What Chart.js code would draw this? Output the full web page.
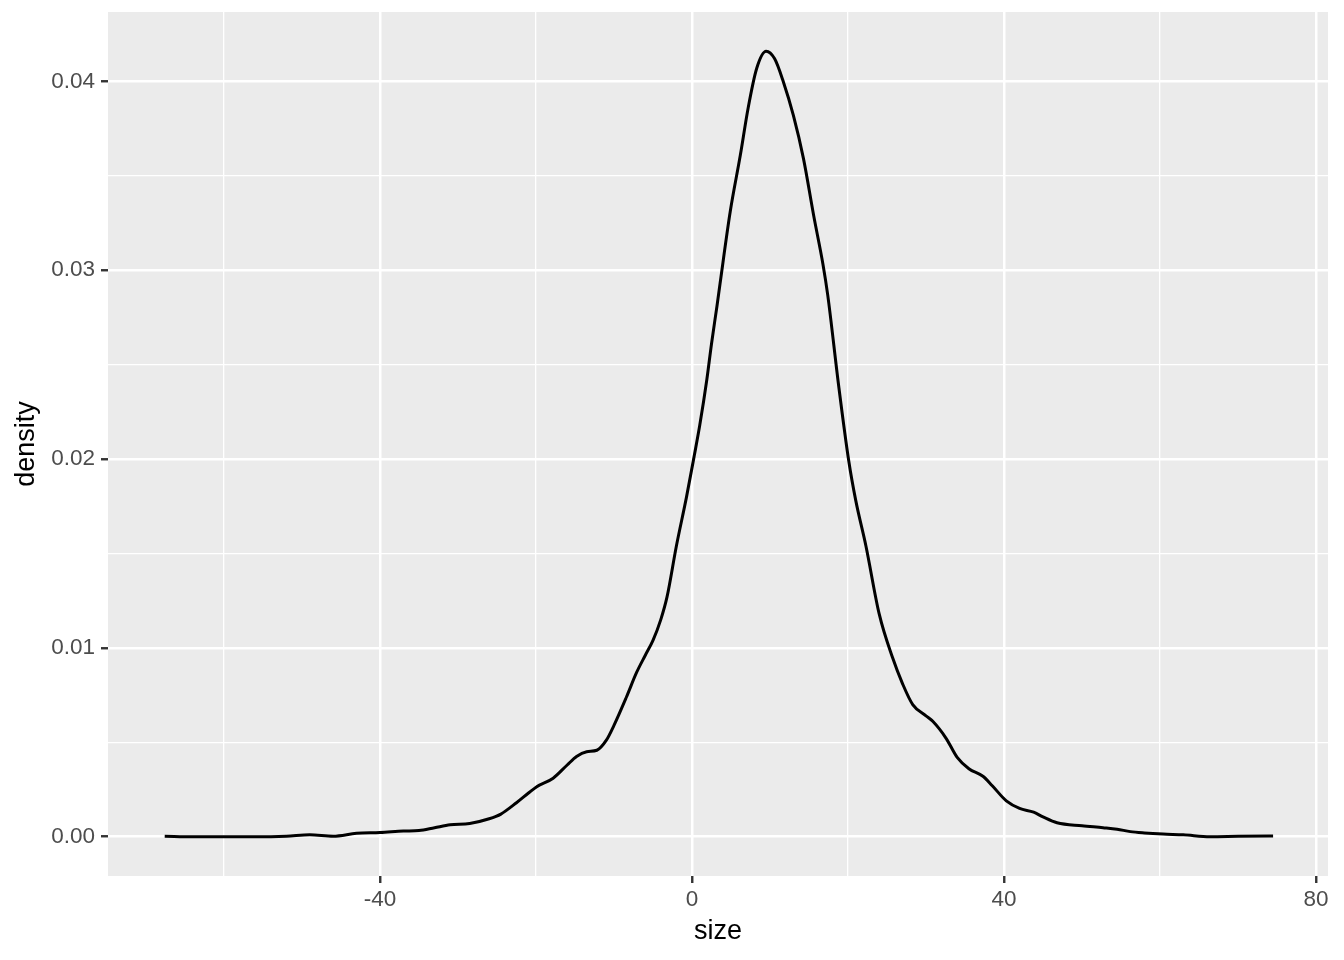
<!DOCTYPE html>
<html>
<head>
<meta charset="utf-8">
<script src="https://cdn.jsdelivr.net/npm/chart.js@4"></script>
<style>
  html, body { margin: 0; padding: 0; background: #ffffff; }
  #wrap { width: 1344px; height: 960px; }
</style>
</head>
<body>
<div id="wrap"><canvas id="chart" width="1344" height="960"></canvas></div>
<script>
// density curve
const sizeValues = [
  -67.6, -64, -60, -56, -52, -49, -46, -43, -40, -37, -35, -33, -31, -28.5, -26,
  -24.5, -22.5, -21, -19.9, -17.8, -16, -14.8, -13.5, -12.2, -11, -10, -8.4, -7.1,
  -6, -5, -4, -3.2, -2, -0.7, 0.3, 1, 1.9, 2.5, 3.2, 3.6, 4.9, 6.2, 7.2, 8.3, 9.5,
  10.6, 11.7, 13, 14.3, 15.6, 16.8, 17.4, 18.8, 20.1, 21, 22.3, 24, 25.7, 27, 28.3,
  30, 30.9, 32.6, 34, 35.5, 37.3, 38.5, 40.3, 42, 43.8, 45, 46.8, 50, 52.7, 54.5,
  56.2, 58, 60.4, 63, 66.4, 70, 74.5
];
const densityValues = [
  0.00003, 0.0, 0.0, 0.0, 0.00003, 0.0001, 0.00003, 0.00018, 0.00022, 0.0003, 0.00033,
  0.00048, 0.00063, 0.0007, 0.00095, 0.0012, 0.0018, 0.0023, 0.00265, 0.0031, 0.0038,
  0.00425, 0.0045, 0.00458, 0.0051, 0.0059, 0.0074, 0.0087, 0.0096, 0.0104, 0.0115,
  0.0127, 0.0154, 0.018, 0.0202, 0.0218, 0.0242, 0.0261, 0.0281, 0.0293, 0.0331,
  0.0361, 0.0386, 0.0407, 0.0416, 0.0412, 0.04, 0.0382, 0.0359, 0.0329, 0.0303,
  0.0287, 0.0239, 0.0199, 0.0178, 0.0154, 0.0118, 0.0095, 0.0081, 0.007, 0.0064,
  0.0061, 0.0052, 0.0042, 0.0036, 0.0032, 0.0027, 0.0019, 0.0015, 0.0013, 0.00105,
  0.00074, 0.00058, 0.00048, 0.0004, 0.00027, 0.0002, 0.00014, 0.0001, 0.0,
  0.00002, 0.00004
];
const xTickLabels = [-40, 0, 40, 80];
const yTickLabels = ['0.00', '0.01', '0.02', '0.03', '0.04'];

const points = sizeValues.map((x, i) => ({ x: x, y: densityValues[i] }));

// grey panel behind the grid
const panelBg = {
  id: 'panelBg',
  beforeDraw(chart) {
    const a = chart.chartArea;
    const ctx = chart.ctx;
    ctx.save();
    ctx.fillStyle = '#ebebeb';
    ctx.fillRect(a.left, a.top, a.right - a.left, a.bottom - a.top);
    ctx.restore();
  }
};

const isMajorX = (v) => xTickLabels.includes(Math.round(v));
const yLabelFor = (v) => {
  const s = (Math.round(v / 0.005) * 0.005).toFixed(3);
  const t = s.slice(0, -1);
  return s.endsWith('0') && yTickLabels.includes(t) ? t : '';
};

new Chart(document.getElementById('chart'), {
  type: 'line',
  data: {
    datasets: [{
      data: points,
      borderColor: '#000000',
      borderWidth: 3,
      pointRadius: 0,
      fill: false,
      cubicInterpolationMode: 'monotone'
    }]
  },
  options: {
    responsive: false,
    animation: false,
    devicePixelRatio: 1,
    layout: { padding: { top: 12, right: 16, bottom: 0, left: 0 } },
    plugins: { legend: { display: false }, tooltip: { enabled: false } },
    scales: {
      x: {
        type: 'linear',
        min: -74.87,
        max: 81.54,
        afterFit: (s) => { s.height = 84; s.paddingLeft = 0; s.paddingRight = 0; },
        border: { display: false },
        grid: {
          color: '#ffffff',
          lineWidth: (c) => isMajorX(c.tick.value) ? 2.5 : 1.3,
          tickColor: (c) => isMajorX(c.tick.value) ? '#333333' : 'rgba(0,0,0,0)',
          tickWidth: 2.4,
          tickLength: 7
        },
        ticks: {
          stepSize: 20,
          includeBounds: false,
          autoSkip: false,
          maxRotation: 0,
          padding: 3,
          color: '#4d4d4d',
          font: { family: '"Liberation Sans", Arial, sans-serif', size: 22.5 },
          callback: (v) => isMajorX(v) ? String(Math.round(v)) : ''
        },
        title: {
          display: true,
          text: 'size',
          color: '#000000',
          font: { family: '"Liberation Sans", Arial, sans-serif', size: 27 },
          padding: { top: 0, bottom: 12 }
        }
      },
      y: {
        type: 'linear',
        min: -0.00208,
        max: 0.04368,
        afterFit: (s) => { s.width = 108; s.paddingTop = 0; s.paddingBottom = 0; },
        border: { display: false },
        grid: {
          color: '#ffffff',
          lineWidth: (c) => yLabelFor(c.tick.value) ? 2.5 : 1.3,
          tickColor: (c) => yLabelFor(c.tick.value) ? '#333333' : 'rgba(0,0,0,0)',
          tickWidth: 2.4,
          tickLength: 7
        },
        ticks: {
          stepSize: 0.005,
          includeBounds: false,
          autoSkip: false,
          padding: 6,
          color: '#4d4d4d',
          font: { family: '"Liberation Sans", Arial, sans-serif', size: 22.5 },
          callback: (v) => yLabelFor(v)
        },
        title: {
          display: true,
          text: 'density',
          color: '#000000',
          font: { family: '"Liberation Sans", Arial, sans-serif', size: 27 },
          padding: { top: 10, bottom: 0 }
        }
      }
    }
  },
  plugins: [panelBg]
});
</script>
</body>
</html>
